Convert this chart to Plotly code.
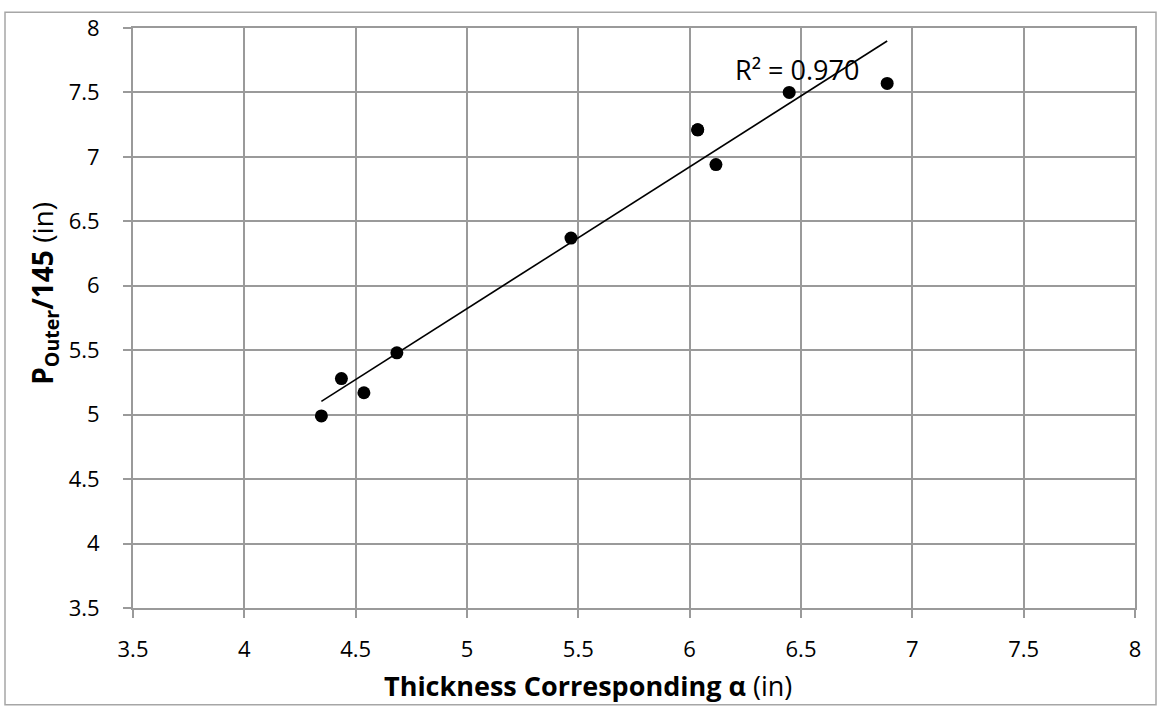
import numpy as np
import plotly.graph_objects as go

# Data
thickness_alpha = [4.346, 4.436, 4.537, 4.685, 5.467, 6.036, 6.036, 6.118, 6.447, 6.887]
p_outer_145 = [4.99, 5.28, 5.17, 5.48, 6.37, 7.21, 7.21, 6.94, 7.50, 7.57]

x_ticks = [3.5, 4, 4.5, 5, 5.5, 6, 6.5, 7, 7.5, 8]
y_ticks = [3.5, 4, 4.5, 5, 5.5, 6, 6.5, 7, 7.5, 8]

# Linear trendline
xa = np.array(thickness_alpha)
ya = np.array(p_outer_145)
slope, intercept = np.polyfit(xa, ya, 1)
pred = slope * xa + intercept
r2 = 1 - np.sum((ya - pred) ** 2) / np.sum((ya - ya.mean()) ** 2)
x_line = [xa.min(), xa.max()]
y_line = [slope * v + intercept for v in x_line]

FONT = "Open Sans"
GRID = "#9a9a9a"

fig = go.Figure()
fig.add_trace(go.Scatter(x=x_line, y=y_line, mode="lines",
                         line=dict(color="black", width=1.6), showlegend=False,
                         hoverinfo="skip"))
fig.add_trace(go.Scatter(x=thickness_alpha, y=p_outer_145, mode="markers",
                         marker=dict(color="black", size=13), showlegend=False))

W, H = 1157, 709
L, R, T, B = 133, 22, 21, 101
pw, ph = W - L - R, H - T - B

def px_x(p):
    return (p - L) / pw

def px_y(p):
    return (H - B - p) / ph

fig.update_layout(
    width=W, height=H,
    margin=dict(l=L, r=R, t=T, b=B),
    paper_bgcolor="white", plot_bgcolor="white",
    font=dict(family=FONT, color="black", size=22),
    xaxis=dict(range=[3.5, 8], tickvals=x_ticks, ticktext=[f"{v:g}" for v in x_ticks],
               showgrid=True, gridcolor=GRID, gridwidth=1.5,
               showline=True, linecolor=GRID, linewidth=2, mirror=True,
               ticks="outside", ticklen=8, tickcolor=GRID, tickwidth=1.5,
               zeroline=False, tickfont=dict(size=22, family=FONT),
               ticklabelstandoff=13),
    yaxis=dict(range=[3.5, 8], tickvals=y_ticks, ticktext=[f"{v:g}" for v in y_ticks],
               showgrid=True, gridcolor=GRID, gridwidth=1.5,
               showline=True, linecolor=GRID, linewidth=2, mirror=True,
               ticks="outside", ticklen=8, tickcolor=GRID, tickwidth=1.5,
               zeroline=False, tickfont=dict(size=22, family=FONT),
               ticklabelstandoff=19),
    shapes=[dict(type="rect", xref="paper", yref="paper",
                 x0=px_x(5), x1=px_x(1156), y0=px_y(706), y1=px_y(5),
                 line=dict(color="#a6a6a6", width=1.5), fillcolor="rgba(0,0,0,0)",
                 layer="below")],
    annotations=[
        dict(text=f"R² = {r2:.3f}", xref="paper", yref="paper",
             x=px_x(797), y=px_y(63), showarrow=False,
             font=dict(size=27, family=FONT, color="black"),
             xanchor="center", yanchor="middle"),
        dict(text="<b>Thickness Corresponding α</b> (in)", xref="paper", yref="paper",
             x=px_x(588), y=px_y(686), showarrow=False,
             font=dict(size=27, family=FONT, color="black"),
             xanchor="center", yanchor="middle"),
        dict(text="<b>P<sub>Outer</sub>/145</b> (in)", xref="paper", yref="paper",
             x=px_x(44), y=px_y(290), showarrow=False, textangle=-90,
             font=dict(size=28, family=FONT, color="black"),
             xanchor="center", yanchor="middle"),
    ],
)

fig.write_html("out.html")
